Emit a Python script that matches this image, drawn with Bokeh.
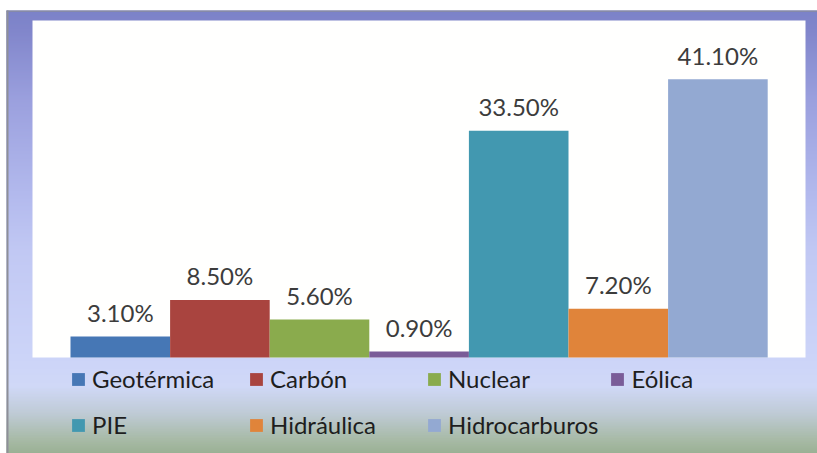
from bokeh.plotting import figure
from bokeh.models import ColumnDataSource, Legend, LegendItem, Range1d
from bokeh.core.properties import value
from bokeh.embed import file_html
from bokeh.resources import INLINE

# ---- data ----
categories = ["Geotérmica", "Carbón", "Nuclear", "Eólica", "PIE", "Hidráulica", "Hidrocarburos"]
shares = [3.1, 8.5, 5.6, 0.9, 33.5, 7.2, 41.1]
labels = ["3.10%", "8.50%", "5.60%", "0.90%", "33.50%", "7.20%", "41.10%"]
colors = ["#4677b5", "#a9443f", "#8aab4d", "#7a5c98", "#4298b0", "#e0843a", "#93a9d2"]

# ---- layout constants (pixels) ----
W, H = 817, 453
BAR_PX = 99.6     # px per bar
BAR_LEFT = 70     # px of first bar's left edge
BASE = 357        # px of baseline from top
PPU = 6.77        # px per percentage point

x0 = -0.5 - BAR_LEFT / BAR_PX
x1 = x0 + W / BAR_PX
y1 = BASE / PPU
y0 = y1 - H / PPU


def dx(px):
    return x0 + px / BAR_PX


def dy(py):
    return y1 - py / PPU


p = figure(width=W, height=H, x_range=Range1d(x0, x1), y_range=Range1d(y0, y1),
           output_backend="svg", toolbar_location=None, min_border=0,
           x_axis_type=None, y_axis_type=None, outline_line_color=None)
p.background_fill_color = "white"
p.border_fill_color = "white"

# ---- chart-area gradient background ----
stops = [(10, (0x7c, 0x82, 0xc8)), (30, (0x81, 0x86, 0xcb)), (100, (0x9b, 0xa0, 0xde)),
         (200, (0xb4, 0xbb, 0xee)), (250, (0xc1, 0xc8, 0xf3)), (357, (0xcc, 0xd4, 0xf8)),
         (385, (0xd0, 0xd8, 0xf7)), (412, (0xbf, 0xcb, 0xd6)), (440, (0xa6, 0xb9, 0xa4)),
         (453, (0x99, 0xb0, 0x93))]


def grad(py):
    for (a, ca), (b, cb) in zip(stops[:-1], stops[1:]):
        if a <= py <= b:
            t = (py - a) / (b - a) if b > a else 0
            c = [round(ca[k] + (cb[k] - ca[k]) * t) for k in range(3)]
            return "#%02x%02x%02x" % tuple(c)
    return "#%02x%02x%02x" % stops[-1][1]


tops, bots, cols = [], [], []
for py in range(10, H):
    tops.append(dy(py))
    bots.append(dy(min(py + 1.8, H)))
    cols.append(grad(py))
p.quad(left=dx(6), right=x1, top=tops, bottom=bots, fill_color=cols, line_color=None)

# outer frame edges
p.quad(left=dx(6), right=dx(8), top=dy(10), bottom=dy(H), fill_color="#8e8f98", line_color=None)
p.quad(left=dx(6), right=x1, top=dy(10), bottom=dy(11.2), fill_color="#8a8c9e", line_color=None)

# white plot area
p.quad(left=dx(32), right=dx(805), top=dy(20), bottom=dy(BASE), fill_color="#fffffe", line_color=None)

# ---- bars ----
src = ColumnDataSource(dict(x=list(range(len(categories))), share=shares, label=labels,
                            color=colors, cat=categories))
r = p.vbar(x="x", top="share", bottom=0, width=1.0, source=src,
           fill_color="color", line_color=None)

p.text(x="x", y="share", text="label", source=src, text_align="center",
       text_baseline="middle", y_offset=-24, text_font=value("Lato"),
       text_font_size="24px", text_color="#3c3c3c")

# ---- legend ----
items = [LegendItem(label=c, renderers=[r], index=i) for i, c in enumerate(categories)]
legend = Legend(items=items, location=(70, 11), orientation="horizontal", ncols=4,
                glyph_width=16, glyph_height=16, label_standoff=6, label_width=145,
                label_height=35, spacing=11, padding=0, margin=0,
                label_text_font="Lato", label_text_font_size="24px",
                label_text_color="#1e1e1e", background_fill_alpha=0,
                border_line_color=None)
p.add_layout(legend)

open("out.html", "w").write(file_html(p, INLINE))
